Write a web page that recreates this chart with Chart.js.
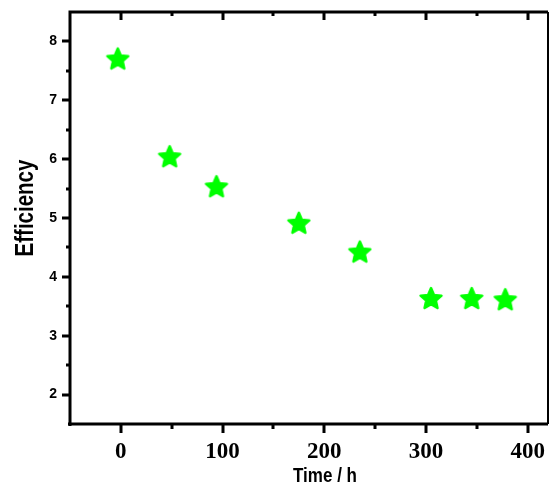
<!DOCTYPE html>
<html>
<head>
<meta charset="utf-8">
<script src="https://cdn.jsdelivr.net/npm/chart.js@4/dist/chart.umd.min.js"></script>
<style>
  html, body { margin: 0; padding: 0; background: #fff; overflow: hidden; }
  #wrap { width: 550px; height: 483px; position: relative; }
  #wrap canvas { display: block; }
</style>
</head>
<body>
<div id="wrap"><canvas id="effChart"></canvas></div>
<script>
// efficiency measured over time
const timeHours = [-3, 48, 94, 175, 235, 305, 345, 378];
const efficiency = [7.71, 6.05, 5.54, 4.92, 4.43, 3.64, 3.64, 3.62];
const xTicks = [0, 100, 200, 300, 400];
const yTicks = [2, 3, 4, 5, 6, 7, 8];
const xTitle = 'Time / h';
const yTitle = 'Efficiency';

// filled five point star with soft rounded tips, used as the point marker
const makeStar = (r, color) => {
    const size = Math.ceil(r * 2 + 6);
    const c = document.createElement('canvas');
    c.width = c.height = size;
    const g = c.getContext('2d');
    g.translate(size / 2, size / 2 + r * 0.095);
    g.beginPath();
    for (let i = 0; i < 10; i++) {
        const rad = i % 2 === 0 ? r : r * 0.46;
        const a = -Math.PI / 2 + i * Math.PI / 5;
        const px = Math.cos(a) * rad;
        const py = Math.sin(a) * rad;
        if (i === 0) g.moveTo(px, py); else g.lineTo(px, py);
    }
    g.closePath();
    g.fillStyle = color;
    g.strokeStyle = color;
    g.lineJoin = 'round';
    g.lineWidth = 2.5;
    g.fill();
    g.stroke();
    return c;
};

const star = makeStar(11, '#00ff00');

// box frame, tick marks and axis titles
const frameAndTicks = {
    id: 'frameAndTicks',
    afterDraw(chart) {
        const { ctx, chartArea: a, scales: { x, y } } = chart;
        ctx.save();
        ctx.strokeStyle = '#000';
        ctx.lineWidth = 3;

        ctx.beginPath();
        for (let v = 0; v <= 400; v += 50) {
            const px = Math.round(x.getPixelForValue(v));
            const major = v % 100 === 0;
            ctx.moveTo(px, a.bottom);
            ctx.lineTo(px, a.bottom + (major ? 9 : 5));
            ctx.moveTo(px, a.top);
            ctx.lineTo(px, a.top + (major ? 8 : 4));
        }
        for (let v = 2; v <= 8; v += 0.5) {
            const py = Math.round(y.getPixelForValue(v));
            const major = v % 1 === 0;
            ctx.moveTo(a.left, py);
            ctx.lineTo(a.left - (major ? 8 : 4), py);
        }
        ctx.stroke();

        // frame
        ctx.beginPath();
        ctx.moveTo(a.left - 2, a.bottom);
        ctx.lineTo(a.right, a.bottom);
        ctx.moveTo(a.left, a.bottom + 2);
        ctx.lineTo(a.left, a.top);
        ctx.lineTo(a.right, a.top);
        ctx.stroke();
        ctx.lineWidth = 2;
        ctx.beginPath();
        ctx.moveTo(a.right, a.top);
        ctx.lineTo(a.right, a.bottom);
        ctx.stroke();

        // titles, narrow bold
        ctx.fillStyle = '#000';
        ctx.textAlign = 'center';
        ctx.textBaseline = 'alphabetic';

        ctx.save();
        ctx.translate(33, 208);
        ctx.rotate(-Math.PI / 2);
        ctx.scale(0.82, 1);
        ctx.font = 'bold 25px "Liberation Sans", Arial, sans-serif';
        ctx.fillText(yTitle, 0, 0);
        ctx.restore();

        ctx.save();
        ctx.translate(325, 482);
        ctx.scale(0.81, 1);
        ctx.font = 'bold 21px "Liberation Sans", Arial, sans-serif';
        ctx.fillText(xTitle, 0, 0);
        ctx.restore();

        ctx.restore();
    }
};

const points = timeHours.map((t, i) => ({ x: t, y: efficiency[i] }));

new Chart(document.getElementById('effChart'), {
    type: 'scatter',
    data: {
        datasets: [{
            data: points,
            pointStyle: star,
            pointRadius: 11,
            pointHoverRadius: 11
        }]
    },
    options: {
        responsive: true,
        maintainAspectRatio: false,
        animation: false,
        layout: {
            autoPadding: false,
            padding: { top: 12, right: 2, left: 0, bottom: 0 }
        },
        plugins: {
            legend: { display: false },
            tooltip: { enabled: false }
        },
        scales: {
            x: {
                type: 'linear',
                min: -50,
                max: 420,
                grid: { display: false, drawTicks: false },
                border: { display: false },
                afterBuildTicks: s => { s.ticks = xTicks.map(v => ({ value: v })); },
                afterFit: s => {
                    s.height = 59;
                    s.paddingLeft = 0;
                    s.paddingRight = 0;
                },
                ticks: {
                    color: '#000',
                    padding: 14,
                    maxRotation: 0,
                    autoSkip: false,
                    font: { family: '"Liberation Serif", "Times New Roman", serif', size: 23, weight: 'bold' }
                }
            },
            y: {
                type: 'linear',
                min: 1.5,
                max: 8.5,
                grid: { display: false, drawTicks: false },
                border: { display: false },
                afterBuildTicks: s => { s.ticks = yTicks.map(v => ({ value: v })); },
                afterFit: s => {
                    s.width = 70;
                    s.paddingTop = 0;
                    s.paddingBottom = 0;
                },
                ticks: {
                    color: '#000',
                    padding: 13,
                    autoSkip: false,
                    font: { family: '"Liberation Sans", Arial, sans-serif', size: 14, weight: 'bold' }
                }
            }
        }
    },
    plugins: [frameAndTicks]
});
</script>
</body>
</html>
